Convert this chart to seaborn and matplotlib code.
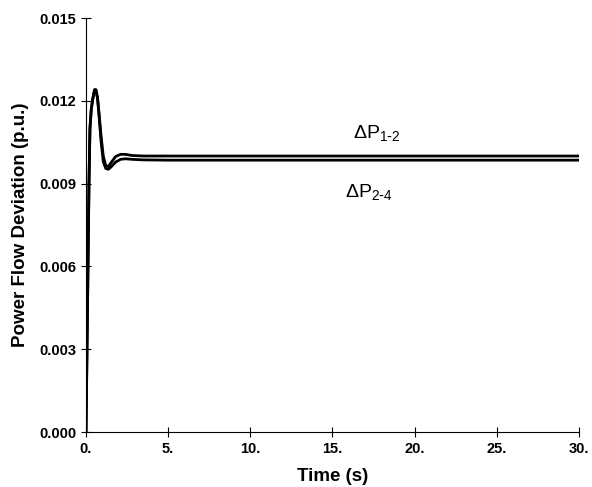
import pandas as pd
import matplotlib.pyplot as plt
import numpy as np
import seaborn as sns
sns.set_theme(style="ticks")
plt.rcParams['font.family'] = ['Liberation Sans', 'DejaVu Sans']
plt.rcParams['mathtext.default'] = 'regular'

# time (s) and power flow deviations (p.u.)
time = [0.0, 0.06, 0.12, 0.18, 0.24, 0.32, 0.42, 0.52, 0.6, 0.7, 0.8, 0.92,
        1.05, 1.2, 1.36, 1.55, 1.8, 2.1, 2.4, 2.8, 3.5, 5.0, 10.0, 20.0, 30.0]
dp_12 = [0.0, 0.0030, 0.0060, 0.0090, 0.0110, 0.0117, 0.0121, 0.0124, 0.0124, 0.0121,
         0.0115, 0.0107, 0.0100, 0.00965, 0.00962, 0.00978, 0.00998, 0.01006, 0.01006,
         0.01002, 0.01000, 0.01000, 0.01000, 0.01000, 0.01000]
dp_24 = [0.0, 0.0030, 0.0060, 0.0090, 0.0110, 0.0117, 0.0121, 0.0124, 0.0124, 0.0121,
         0.0114, 0.0105, 0.0098, 0.00955, 0.00952, 0.00962, 0.00978, 0.00988, 0.00990,
         0.00988, 0.00986, 0.00985, 0.00985, 0.00985, 0.00985]

df = pd.DataFrame({"time": time + time,
                   "value": dp_12 + dp_24,
                   "series": ["1-2"] * len(time) + ["2-4"] * len(time)})

fig = plt.figure(figsize=(5.92, 4.87), dpi=100)
ax = fig.add_axes([0.1453, 0.1129, 0.8327, 0.8501])

sns.lineplot(data=df, x="time", y="value", units="series", estimator=None,
             color="black", linewidth=2.0, ax=ax, legend=False)

ax.set_xlim(0, 30)
ax.set_ylim(0, 0.015)
ax.set_xticks([0, 5, 10, 15, 20, 25, 30])
ax.set_xticklabels(["0.", "5.", "10.", "15.", "20.", "25.", "30."])
ax.set_yticks([0, 0.003, 0.006, 0.009, 0.012, 0.015])
ax.set_yticklabels(["0.000", "0.003", "0.006", "0.009", "0.012", "0.015"])
ax.tick_params(direction="inout", length=7, width=0.8, labelsize=10.5, colors="black")
for lab in ax.get_xticklabels() + ax.get_yticklabels():
    lab.set_fontweight("bold")
sns.despine(ax=ax)
for s in ["left", "bottom"]:
    ax.spines[s].set_color("black")
    ax.spines[s].set_linewidth(0.8)

ax.set_xlabel("Time (s)", fontsize=13.5, fontweight="bold", labelpad=9, color="black")
ax.set_ylabel("Power Flow Deviation (p.u.)", fontsize=13.5, fontweight="bold", labelpad=7,
              color="black")

ax.text(16.25, 0.01085, r"$\Delta$P$_{1\text{-}2}$", fontsize=14, va="center", ha="left",
        color="black")
ax.text(15.75, 0.00871, r"$\Delta$P$_{2\text{-}4}$", fontsize=14, va="center", ha="left",
        color="black")

fig.savefig("out.png", dpi=100)
